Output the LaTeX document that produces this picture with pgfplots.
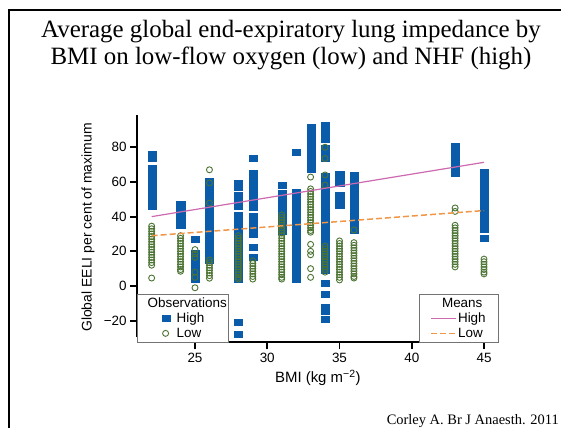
\documentclass[border=0pt]{standalone}
\usepackage{fontspec}
\setmainfont{Liberation Sans}
\newfontfamily\timesf{Liberation Serif}
\usepackage{pgfplots}
\pgfplotsset{compat=1.18}
\definecolor{obsblue}{RGB}{10,92,170}
\definecolor{obsgreen}{RGB}{75,115,50}
\definecolor{meanpink}{RGB}{205,105,175}
\definecolor{meanorange}{RGB}{240,150,70}
\pgfplotsset{markleg/.style={legend image code/.code={\path[draw=none,fill=none] (0bp,0bp) -- (18bp,0bp); \draw[##1] plot coordinates {(8bp,0bp)};}}}
\begin{document}
\begin{tikzpicture}
\useasboundingbox (0bp,0bp) rectangle (561bp,428bp);
\draw[line width=1.8bp] (9bp,-5bp) -- (9bp,418bp) -- (570bp,418bp);
\node[font=\timesf\fontsize{25}{25}\selectfont, anchor=base, inner sep=0pt] at (291bp,390.3bp) {Average global end-expiratory lung impedance by};
\node[font=\timesf\fontsize{25}{25}\selectfont, anchor=base, inner sep=0pt] at (291bp,363.7bp) {BMI on low-flow oxygen (low) and NHF (high)};
\node[font=\timesf\fontsize{14.5}{15}\selectfont, anchor=base east, inner sep=0pt] at (559bp,4bp) {Corley A. Br J Anaesth. 2011};

\begin{axis}[at={(137.2bp,85.6bp)}, anchor=south west, scale only axis,
  width=361.25bp, height=226.4bp,
  xmin=21, xmax=46, ymin=-32.5, ymax=98, clip=false,
  axis x line*=bottom, axis y line*=left, axis line style={draw=none},
  xtick={25,30,35,40,45}, xticklabels={25,30,35,40,45},
  ytick={-20,0,20,40,60,80}, yticklabels={−20,0,20,40,60,80},
  tick align=outside, major tick length=7bp,
  tick style={line width=1.8bp, black},
  ticklabel style={font=\fontsize{13.5}{15}\selectfont},
  xlabel={BMI (kg m\textsuperscript{−2})},
  ylabel={Global EELI per cent of maximum},
  ylabel style={font=\fontsize{14}{16}\selectfont, at={(axis description cs:-0.136,0.5075)}, anchor=center},
  xlabel style={font=\fontsize{15}{17}\selectfont, at={(axis description cs:0.5,-0.157)}, anchor=center},
  legend style={at={(0,0)}, anchor=south west, draw=black!55, line width=0.8bp,
    fill=white, font=\fontsize{13.5}{15}\selectfont, inner xsep=20bp, inner ysep=2bp,
    row sep=1.5bp, nodes={inner sep=1bp, text depth=0.2em}},
  legend cell align=left,
]
\draw[line width=1.8bp] (axis cs:21,-29.5) -- (axis cs:21,98.5);
\draw[line width=1.8bp] (axis cs:21,-32.5) -- (axis cs:46,-32.5);
\addlegendimage{empty legend}
\addlegendentry{\makebox[31bp][l]{\hspace{-29bp}Observations}}
\addplot[only marks, mark=square*, mark size=3bp,
  mark options={xscale=1.35, fill=obsblue, draw=obsblue, line width=0.1bp}, markleg]
coordinates {
(22,76) (22,73.5) (22,68) (22,66) (22,64) (22,62) (22,60) (22,58) (22,56) (22,54) (22,52) (22,50) (22,48) (22,46)
(24,47) (24,45) (24,43) (24,41) (24,39) (24,37) (24,35)
(25,27) (25,19) (25,17) (25,15) (25,13) (25,11) (25,9) (25,7) (25,5) (25,4)
(26,60.5) (26,58.5) (26,56.5) (26,54.5) (26,52.5) (26,50.5) (26,48.5) (26,46.5) (26,44.5) (26,42.5) (26,40.5) (26,38.5) (26,36.5) (26,34.5) (26,32.5) (26,30.5) (26,28.5) (26,26.5) (26,24.5) (26,22.5) (26,20.5) (26,18.5) (26,16.5) (26,15)
(28,59.4) (28,57.2) (28,52.5) (28,50.5) (28,48.5) (28,46.2) (28,41) (28,39) (28,37) (28,35) (28,33) (28,31) (28,29) (28,27) (28,25) (28,23) (28,21) (28,19) (28,17) (28,15) (28,13) (28,11) (28,9) (28,7) (28,5) (28,4) (28,-20.7) (28,-27.7)
(29,73.5) (29,65) (29,63) (29,61) (29,59) (29,57) (29,55) (29,53) (29,51) (29,49) (29,47) (29,45.5) (29,40.3) (29,38.3) (29,36.3) (29,34.3) (29,32.3) (29,30) (29,22.5) (29,16.7)
(31,58) (31,53.5) (31,51.5) (31,49.5) (31,47.5) (31,45.5) (31,43.5) (31,41.5) (31,39.5) (31,37.5) (31,35.5) (31,33.5) (31,31.5)
(32,77.5) (32,54) (32,52) (32,50) (32,48) (32,46) (32,44) (32,42) (32,40) (32,38) (32,36) (32,34) (32,32) (32,30) (32,28) (32,26) (32,24) (32,22) (32,20) (32,18) (32,16) (32,14) (32,12) (32,10) (32,8) (32,6) (32,4)
(33,91.7) (33,87.6) (33,85.6) (33,83.6) (33,81.6) (33,79.6) (33,77.6) (33,75.6) (33,73.6) (33,71.6) (33,69.6) (33,67.4)
(34,92.5) (34,90.5) (34,88.5) (34,86.5) (34,84.5) (34,79.5) (34,77.5) (34,75.5) (34,73.5) (34,63.3) (34,61.3) (34,59.3) (34,57.3) (34,55.3) (34,53.3) (34,51.3) (34,49.3) (34,47.3) (34,45.3) (34,43.3) (34,41.3) (34,39.3) (34,37.3) (34,35.3) (34,33.3) (34,31.3) (34,29.3) (34,27.3) (34,25.3) (34,23.3) (34,21.3) (34,19.3) (34,17.3) (34,15.3) (34,13.3) (34,11.3) (34,9.3) (34,1.5) (34,-4.6) (34,-12) (34,-14.5) (34,-19.3)
(35,64.5) (35,62.5) (35,60.5) (35,59.4) (35,52.4) (35,50.4) (35,48.4) (35,46.7)
(36,64) (36,62) (36,60) (36,58) (36,56) (36,54) (36,52) (36,50) (36,48) (36,46) (36,44) (36,42) (36,40) (36,38) (36,36) (36,34) (36,32.3)
(43,80.7) (43,78.7) (43,76.7) (43,74.7) (43,72.7) (43,70.7) (43,68.7) (43,66.7) (43,65)
(45,65.7) (45,63.7) (45,61.7) (45,59.7) (45,57.7) (45,55.7) (45,53.7) (45,51.7) (45,49.7) (45,47.7) (45,45.7) (45,43.7) (45,41.7) (45,39.7) (45,37.7) (45,35.7) (45,33.7) (45,32.9) (45,27.4)
};
\addlegendentry{High}
\addplot[only marks, mark=o, mark size=3bp,
  mark options={draw=obsgreen, line width=0.9bp}, markleg]
coordinates {
(22,34.5) (22,33) (22,31.5) (22,30) (22,28.5) (22,27) (22,25.5) (22,24) (22,22.5) (22,21) (22,19.5) (22,18) (22,16.5) (22,15) (22,13.5) (22,12) (22,4.6)
(24,29) (24,27.5) (24,26) (24,24.5) (24,23) (24,21.5) (24,20) (24,18.5) (24,17) (24,15.5) (24,14) (24,12.5) (24,11) (24,9.5) (24,8.5)
(25,21) (25,18.5) (25,16.5) (25,8) (25,5) (25,-1)
(26,67) (26,59.4) (26,47.8) (26,15) (26,13.5) (26,12) (26,10.5) (26,9) (26,7.5) (26,6) (26,4.5)
(28,29) (28,27.5) (28,26) (28,24.5) (28,23) (28,21.5) (28,20) (28,18.5) (28,17) (28,15.5) (28,14) (28,12.5) (28,11) (28,9.5) (28,8) (28,6.5) (28,5) (28,4)
(29,14.5) (29,13) (29,11.5) (29,10) (29,8.5) (29,7) (29,5.5) (29,4)
(31,41) (31,39.5) (31,38) (31,36.5) (31,35) (31,33.5) (31,32) (31,30.5) (31,29) (31,27.5) (31,26) (31,24.5) (31,23) (31,21.5) (31,20) (31,18.5) (31,17) (31,15.5) (31,14) (31,12.5) (31,11) (31,9.5) (31,8) (31,6.5) (31,5) (31,4)
(33,62.8) (33,56) (33,54.5) (33,53) (33,51.5) (33,50) (33,48.5) (33,47) (33,45.5) (33,44) (33,42.5) (33,41) (33,39.5) (33,38) (33,36.5) (33,35) (33,33.5) (33,32) (33,31) (33,24) (33,20) (33,18) (33,10) (33,5)
(34,80) (34,73.5) (34,64) (34,58.2) (34,23) (34,21.5) (34,20) (34,18.5) (34,17) (34,15.5) (34,14) (34,12.5) (34,11) (34,9.5) (34,8)
(35,26) (35,24.5) (35,23) (35,21.5) (35,20) (35,18.5) (35,17) (35,15.5) (35,14) (35,12.5) (35,11) (35,9.5) (35,8) (35,6.5) (35,5) (35,3.5)
(36,32.3) (36,25) (36,23.5) (36,22) (36,20.5) (36,19) (36,17.5) (36,16) (36,14.5) (36,13) (36,11.5) (36,10) (36,8.5) (36,7) (36,5.5) (36,4.6)
(43,45) (43,43) (43,35) (43,33.5) (43,32) (43,30.5) (43,29) (43,27.5) (43,26) (43,24.5) (43,23) (43,21.5) (43,20) (43,18.5) (43,17) (43,15.5) (43,14) (43,12.5) (43,11)
(45,15.5) (45,14) (45,12.5) (45,11) (45,9.5) (45,8) (45,7)
};
\addlegendentry{Low}
\end{axis}

\begin{axis}[at={(137.2bp,85.6bp)}, anchor=south west, scale only axis,
  width=361.25bp, height=226.4bp,
  xmin=21, xmax=46, ymin=-32.5, ymax=98, clip=false, hide axis,
  legend style={at={(1,0)}, anchor=south east, draw=black!55, line width=0.8bp,
    fill=white, font=\fontsize{13.5}{15}\selectfont, inner xsep=11bp, inner ysep=2bp,
    row sep=1.5bp, nodes={inner sep=1bp, text depth=0.2em}},
  legend cell align=left,
  legend image code/.code={\draw[#1] (0bp,0bp) -- (25bp,0bp);},
]
\addlegendimage{empty legend}
\addlegendentry{\makebox[28bp][l]{\hspace{-16bp}Means}}
\addplot[meanpink, line width=1.2bp] coordinates {(22,40) (45,71.3)};
\addlegendentry{High}
\addplot[meanorange, line width=1.5bp, dash pattern=on 6bp off 3bp] coordinates {(22,29) (45,43.5)};
\addlegendentry{Low}
\end{axis}
\end{tikzpicture}
\end{document}
